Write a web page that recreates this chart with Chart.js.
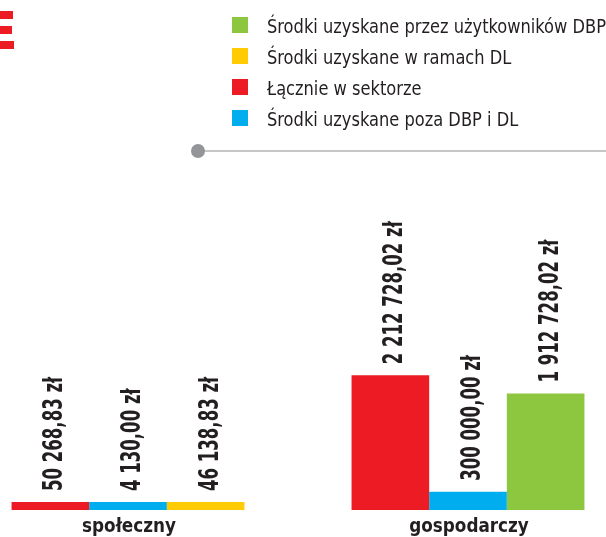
<!DOCTYPE html>
<html>
<head>
<meta charset="utf-8">
<script src="https://cdn.jsdelivr.net/npm/chart.js@4"></script>
<style>
  html, body { margin: 0; padding: 0; background: #fff; overflow: hidden; }
  #chart { display: block; }
</style>
</head>
<body>
<canvas id="chart" width="606" height="537"></canvas>
<script>
const categories = ['społeczny', 'gospodarczy'];
const totalValues = [50268.83, 2212728.02];      // Łącznie w sektorze
const outsideValues = [4130.00, 300000.00];      // poza DBP i DL
const dlValues = [46138.83, null];               // w ramach DL
const dbpValues = [null, 1912728.02];            // przez użytkowników DBP
const legendOrder = [3, 2, 0, 1];

const NARROW = "'Liberation Sans Narrow', 'DejaVu Sans Condensed', 'Roboto Condensed', sans-serif";
const INK = '#231f20';

// polish style money: 2 212 728,02 zł
function formatZl(v) {
    const parts = v.toFixed(2).split('.');
    return parts[0].replace(/\B(?=(\d{3})+(?!\d))/g, ' ') + ',' + parts[1] + ' zł';
}

// the original face is much narrower than anything installed, so squeeze horizontally
function squeezedText(ctx, text, x, y, sx) {
    ctx.save();
    ctx.translate(x, y);
    ctx.scale(sx, 1);
    ctx.fillText(text, 0, 0);
    ctx.restore();
}

const decorPlugin = {
    id: 'decor',
    beforeDraw(chart) {
        const ctx = chart.ctx;
        ctx.save();
        // cut-off red glyph in the corner
        ctx.fillStyle = '#ed1c24';
        ctx.fillRect(0, 11, 13, 8);
        ctx.fillRect(0, 26, 12, 8);
        ctx.fillRect(0, 41, 14, 8);

        // legend
        ctx.font = '19px ' + NARROW;
        ctx.textBaseline = 'alphabetic';
        ctx.textAlign = 'left';
        const longest = chart.data.datasets[legendOrder[0]].label;
        const sx = Math.min(1, 339 / ctx.measureText(longest).width);
        legendOrder.forEach((di, k) => {
            const ds = chart.data.datasets[di];
            const base = 33 + k * 31;
            ctx.fillStyle = ds.backgroundColor;
            ctx.fillRect(232, base - 16, 16, 16);
            ctx.fillStyle = INK;
            squeezedText(ctx, ds.label, 267, base, sx);
        });

        // grey rule with dot
        ctx.strokeStyle = '#b3b3b3';
        ctx.lineWidth = 1.5;
        ctx.beginPath();
        ctx.moveTo(198, 151);
        ctx.lineTo(606, 151);
        ctx.stroke();
        ctx.fillStyle = '#939598';
        ctx.beginPath();
        ctx.arc(198, 151, 7, 0, Math.PI * 2);
        ctx.fill();
        ctx.restore();
    },
    afterDatasetsDraw(chart) {
        const ctx = chart.ctx;
        ctx.save();
        ctx.fillStyle = INK;
        ctx.textBaseline = 'alphabetic';

        // value labels, rotated
        ctx.font = 'bold 26px ' + NARROW;
        ctx.textAlign = 'left';
        const vsx = 143 / ctx.measureText(formatZl(totalValues[1])).width;
        chart.data.datasets.forEach((ds, i) => {
            chart.getDatasetMeta(i).data.forEach((bar, j) => {
                const v = ds.data[j];
                if (v == null) return;
                ctx.save();
                ctx.translate(bar.x + 12, bar.y - 11);
                ctx.rotate(-Math.PI / 2);
                squeezedText(ctx, formatZl(v), 0, 0, vsx);
                ctx.restore();
            });
        });

        // category names under the groups
        const xs = chart.scales.x;
        ctx.font = 'bold 20px ' + NARROW;
        ctx.textAlign = 'center';
        const csx = 94 / ctx.measureText(categories[0]).width;
        categories.forEach((c, i) => {
            squeezedText(ctx, c, xs.getPixelForValue(i) + 1, 532, csx);
        });
        ctx.restore();
    }
};

const chart = new Chart(document.getElementById('chart'), {
    type: 'bar',
    data: {
        labels: categories,
        datasets: [
            { label: 'Łącznie w sektorze', data: totalValues, backgroundColor: '#ed1c24' },
            { label: 'Środki uzyskane poza DBP i DL', data: outsideValues, backgroundColor: '#00aeef' },
            { label: 'Środki uzyskane w ramach DL', data: dlValues, backgroundColor: '#ffcb05' },
            { label: 'Środki uzyskane przez użytkowników DBP', data: dbpValues, backgroundColor: '#8dc63f' }
        ]
    },
    options: {
        responsive: false,
        animation: false,
        layout: { padding: { left: 128, right: 138, top: 175, bottom: 27 } },
        datasets: {
            bar: {
                skipNull: true,
                barPercentage: 1,
                categoryPercentage: 0.685,
                minBarLength: 8,
                borderWidth: 0,
                clip: false
            }
        },
        plugins: {
            legend: { display: false },
            tooltip: { enabled: false }
        },
        scales: {
            x: {
                offset: false,
                grid: { display: false, drawTicks: false, offset: false },
                border: { display: false },
                ticks: { display: false }
            },
            y: {
                display: false,
                min: 0,
                max: 5500000
            }
        }
    },
    plugins: [decorPlugin]
});
</script>
</body>
</html>
